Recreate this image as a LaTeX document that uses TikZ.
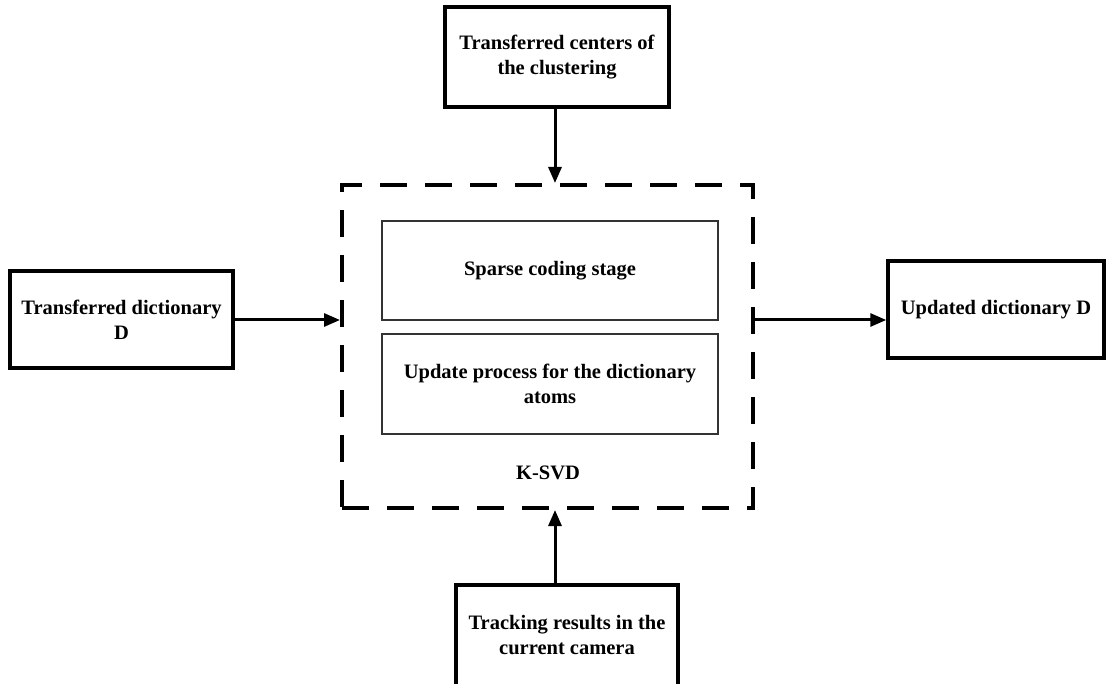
\documentclass[tikz,border=0pt]{standalone}
\usepackage{fontspec}
\setmainfont{Liberation Serif}
\usetikzlibrary{arrows.meta}
\begin{document}
\begin{tikzpicture}[x=1pt,y=-1pt,
  every node/.style={font=\bfseries\fontsize{20.5}{25}\selectfont, align=center, inner sep=0pt},
  outerbox/.style={draw, line width=3.5pt, minimum width=#1},
  innerbox/.style={draw=black!80, line width=1.3pt, minimum width=336pt, minimum height=99pt},
  flow/.style={line width=3pt, -{Triangle[length=16pt,width=13pt]}},
  groupbox/.style={draw, line width=4pt, dash pattern=on 27pt off 18pt, minimum width=411pt, minimum height=323pt}
]
\useasboundingbox (0,0) rectangle (1106,684);
\node[outerbox=224pt, minimum height=100pt] (top) at (557,57) {Transferred centers of\\the clustering};
\node[outerbox=223pt, minimum height=97pt] (left) at (121.5,319.5) {Transferred dictionary\\D};
\node[outerbox=216pt, minimum height=97pt] (right) at (996,309.5) {Updated dictionary D};
\node[outerbox=222pt, minimum height=101pt] (bottom) at (567,635.5) {Tracking results in the\\current camera};
\node[groupbox] (ksvd) at (547.5,346.5) {};
\node[innerbox] (sparse) at (550,270.5) {Sparse coding stage};
\node[innerbox, minimum height=100pt] (update) at (550,384) {Update process for the dictionary\\atoms};
\node (label) at (548,473) {K-SVD};
\coordinate (mid) at (0,320);
\coordinate (tx) at (555,0);
\draw[flow] (top.south -| tx) -- (ksvd.north -| tx);
\draw[flow] (left.east |- mid) -- (ksvd.west |- mid);
\draw[flow] (ksvd.east |- mid) -- (right.west |- mid);
\draw[flow] (bottom.north -| tx) -- (ksvd.south -| tx);
\end{tikzpicture}
\end{document}
